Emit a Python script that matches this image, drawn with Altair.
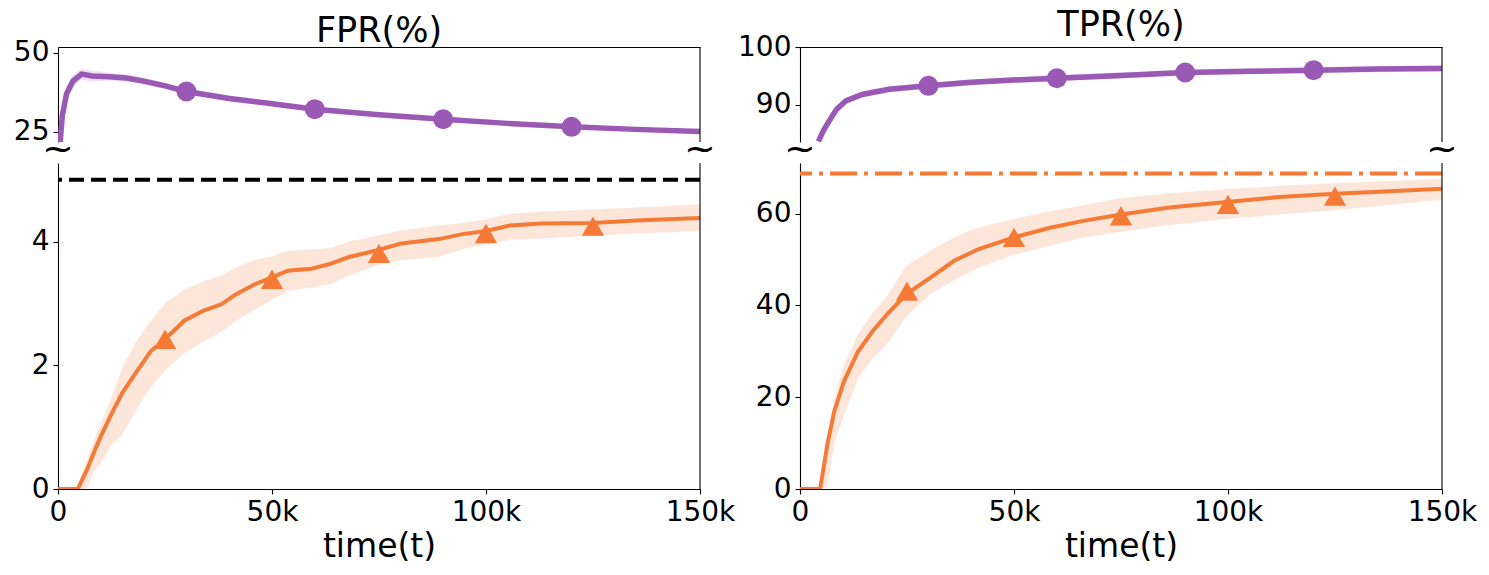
import altair as alt
import pandas as pd

PURPLE = "#9b59b6"
ORANGE = "#f47a36"
FONT = "DejaVu Sans"

# ---------------- data (t in thousands) ----------------
# FPR, top panel (purple)
fpr_top_t = [0.5, 1, 2, 3.5, 5.5, 8, 12, 16, 20, 25, 30, 40, 50, 60, 75, 90, 105, 120, 135, 150]
fpr_top_mean = [21.5, 30, 37, 41, 43.2, 42.6, 42.4, 42, 41, 39.5, 37.7, 35.5, 33.8, 32.1, 30.3, 28.9, 27.6, 26.5, 25.7, 25.0]
fpr_top_hi = [23, 32, 39.5, 43, 44.8, 44.2, 43.6, 43.1, 42.1, 40.5, 38.6, 36.4, 34.6, 32.9, 31.0, 29.6, 28.3, 27.2, 26.4, 25.7]
fpr_top_lo = [21, 28, 34.5, 39, 41.5, 40.8, 41.2, 40.9, 40, 38.6, 36.8, 34.6, 33, 31.3, 29.6, 28.2, 26.9, 25.8, 25.0, 24.3]
fpr_top_mk_t = [30, 60, 90, 120]
fpr_top_mk_y = [37.7, 32.1, 28.9, 26.5]

# FPR, bottom panel (orange)
fpr_bot_t = [0, 4.6, 6.7, 8.5, 10, 12.4, 15, 18.4, 21.7, 25, 29.5, 33.9, 38.3, 41.6, 46, 50, 53.7, 59.2,
             63.6, 68, 74.7, 80.2, 89, 94.5, 100, 105.6, 113, 125, 135, 150]
fpr_bot_mean = [0, 0, 0.3, 0.61, 0.85, 1.2, 1.55, 1.9, 2.23, 2.42, 2.72, 2.88, 2.99, 3.15, 3.31, 3.42, 3.53, 3.56,
                3.64, 3.75, 3.86, 3.97, 4.04, 4.12, 4.17, 4.26, 4.29, 4.30, 4.34, 4.38]
fpr_bot_hi = [0, 0.05, 0.45, 0.8, 1.05, 1.45, 1.95, 2.4, 2.72, 3.0, 3.22, 3.35, 3.45, 3.58, 3.7, 3.76, 3.85, 3.87,
              3.89, 4.0, 4.1, 4.18, 4.26, 4.3, 4.36, 4.45, 4.48, 4.52, 4.55, 4.6]
fpr_bot_lo = [0, 0, 0, 0.3, 0.42, 0.7, 0.88, 1.3, 1.65, 1.91, 2.2, 2.38, 2.55, 2.72, 2.9, 3.06, 3.2, 3.26,
              3.31, 3.45, 3.62, 3.7, 3.75, 3.88, 3.96, 4.03, 4.05, 4.1, 4.13, 4.17]
fpr_bot_mk_t = [25, 50, 75, 100, 125]
fpr_bot_mk_y = [2.42, 3.39, 3.81, 4.13, 4.25]
fpr_ref = [5]

# TPR, top panel (purple)
tpr_top_t = [4.3, 5.5, 6.8, 8.5, 10.7, 14.5, 20.8, 30, 40, 50, 60, 75, 90, 105, 120, 135, 150]
tpr_top_mean = [83.7, 85.6, 87.2, 89.2, 90.7, 91.8, 92.7, 93.3, 93.9, 94.3, 94.6, 95.1, 95.6, 95.8, 96.0, 96.2, 96.3]
tpr_top_hi = [84.2, 86.2, 87.8, 89.8, 91.2, 92.3, 93.2, 93.8, 94.4, 94.8, 95.2, 95.6, 96.1, 96.3, 96.5, 96.7, 96.8]
tpr_top_lo = [83.2, 85.0, 86.6, 88.6, 90.2, 91.3, 92.2, 92.8, 93.4, 93.8, 94.1, 94.6, 95.1, 95.3, 95.5, 95.7, 95.8]
tpr_top_mk_t = [30, 60, 90, 120]
tpr_top_mk_y = [93.3, 94.6, 95.6, 96.0]

# TPR, bottom panel (orange)
tpr_bot_t = [0, 4.7, 6.4, 8, 10.3, 13.6, 17, 20.3, 24.8, 30.4, 36, 41.6, 50, 58.4, 66.2, 75, 86.3, 99.7,
             112, 125, 136.6, 150]
tpr_bot_mean = [0, 0, 9.7, 16.9, 23.5, 30, 34.4, 38, 42.4, 46, 49.7, 52.2, 54.8, 56.9, 58.4, 59.8, 61.3, 62.5,
                63.6, 64.3, 64.8, 65.4]
tpr_bot_hi = [0, 0.5, 11.5, 19.5, 27, 33.7, 38.5, 42, 48.5, 51.9, 54.8, 56.9, 58.8, 60.5, 61.8, 63.3, 64.4, 65.3,
              66, 66.6, 67, 67.5]
tpr_bot_lo = [0, 0, 0.5, 10, 16.2, 24.2, 28.5, 31.5, 37.5, 42.4, 45.5, 48.2, 51, 53, 54.8, 56, 57.5, 58.8,
              59.8, 60.7, 61.8, 63]
tpr_bot_mk_t = [25, 50, 75, 100, 125]
tpr_bot_mk_y = [43.1, 54.8, 59.5, 62.0, 63.8]
tpr_ref = [68.7]

# ---------------- layout ----------------
W, HT, HB = 642, 95, 326
XDOM = [0, 150]


def xenc(bottom):
    if bottom:
        axis = alt.Axis(values=[0, 50, 100, 150],
                        labelExpr="datum.value == 0 ? '0' : datum.value + 'k'",
                        title="time(t)", grid=False, labelFlush=False)
    else:
        axis = alt.Axis(orient="top", labels=False, ticks=False, domain=True, title=None, grid=False,
                        labelPadding=0, offset=0)
    return alt.X("t:Q", scale=alt.Scale(domain=XDOM, nice=False, zero=False), axis=axis)


def yenc(field, dom, ticks):
    return alt.Y(f"{field}:Q", scale=alt.Scale(domain=dom, nice=False, zero=False),
                 axis=alt.Axis(values=ticks, title=None, grid=False, labelFlush=False))


def panel(t, mean, lo, hi, mk_t, mk_y, color, shape, msize, lw, dom, ticks, bottom,
          ref=None, ref_color=None, ref_dash=None, title=None):
    H = HB if bottom else HT
    df = pd.DataFrame({"t": t, "m": mean, "lo": lo, "hi": hi})
    mk = pd.DataFrame({"t": mk_t, "m": mk_y})
    dummy = pd.DataFrame({"a": [0]})
    layers = []
    if ref is not None:
        layers.append(alt.Chart(pd.DataFrame({"m": ref})).mark_rule(
            color=ref_color, strokeWidth=4, strokeDash=ref_dash).encode(y=yenc("m", dom, ticks)))
    layers.append(alt.Chart(df).mark_area(color=color, opacity=0.18, clip=True,
                                          stroke=color, strokeWidth=1, strokeOpacity=0.12).encode(
        x=xenc(bottom), y=yenc("lo", dom, ticks), y2="hi:Q"))
    layers.append(alt.Chart(df).mark_line(color=color, strokeWidth=lw, clip=True).encode(
        x=xenc(bottom), y=yenc("m", dom, ticks)))
    layers.append(alt.Chart(mk).mark_point(shape=shape, size=msize, filled=True, opacity=1,
                                           color=color).encode(
        x=xenc(bottom), y=yenc("m", dom, ticks)))
    # right border
    layers.append(alt.Chart(dummy).mark_rule(color="black", strokeWidth=1.1).encode(
        x=alt.value(W), y=alt.value(0), y2=alt.value(H)))
    if not bottom:
        for xv in (0, W):
            layers.append(alt.Chart(dummy).mark_text(
                text="~", font=FONT, fontSize=38, color="black", baseline="middle", align="center").encode(
                x=alt.value(xv), y=alt.value(H + 8)))
    ch = alt.layer(*layers).properties(width=W, height=H)
    if title is not None:
        ch = ch.properties(title=alt.TitleParams(title, fontSize=35, font=FONT, fontWeight="normal",
                                                 color="black", offset=-10))
    return ch


fpr_top = panel(fpr_top_t, fpr_top_mean, fpr_top_lo, fpr_top_hi, fpr_top_mk_t, fpr_top_mk_y,
                PURPLE, "circle", 400, 5.5, [21.7, 51.8], [25, 50], False, title="FPR(%)")
fpr_bot = panel(fpr_bot_t, fpr_bot_mean, fpr_bot_lo, fpr_bot_hi, fpr_bot_mk_t, fpr_bot_mk_y,
                ORANGE, "triangle-up", 500, 4, [0, 5.27], [0, 2, 4], True,
                ref=fpr_ref, ref_color="black", ref_dash=[15, 7])
tpr_top = panel(tpr_top_t, tpr_top_mean, tpr_top_lo, tpr_top_hi, tpr_top_mk_t, tpr_top_mk_y,
                PURPLE, "circle", 400, 5.5, [83.6, 100], [90, 100], False, title="TPR(%)")
tpr_bot = panel(tpr_bot_t, tpr_bot_mean, tpr_bot_lo, tpr_bot_hi, tpr_bot_mk_t, tpr_bot_mk_y,
                ORANGE, "triangle-up", 500, 4, [0, 71], [0, 20, 40, 60], True,
                ref=tpr_ref, ref_color=ORANGE, ref_dash=[27, 7, 4, 7])

left = alt.vconcat(fpr_top, fpr_bot, spacing=21, bounds="flush")
right = alt.vconcat(tpr_top, tpr_bot, spacing=21, bounds="flush")

chart = alt.hconcat(left, right, spacing=2).properties(
    padding={"left": 5, "top": 0, "right": 0, "bottom": 0}
).configure_view(stroke=None).configure_axis(
    labelFont=FONT, labelFontSize=28, labelColor="black",
    titleFont=FONT, titleFontSize=33, titleFontWeight="normal", titleColor="black",
    domainColor="black", domainWidth=1.1, tickColor="black", tickWidth=1.1, tickSize=5,
    labelPadding=4, titlePadding=4, grid=False
)

chart.save("out.html", embed_options={"renderer": "svg", "actions": False})
